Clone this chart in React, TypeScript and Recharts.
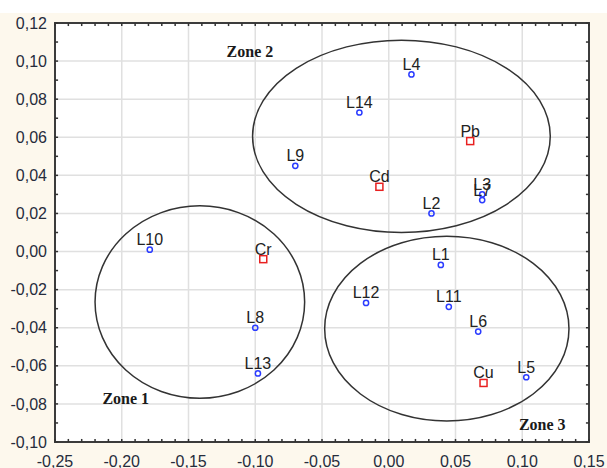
import { CartesianGrid, ReferenceArea, ReferenceLine, Scatter, ScatterChart, XAxis, YAxis } from 'recharts';

// sampling sites (blue circles)
const siteNames = ['L1', 'L2', 'L3', 'L4', 'L5', 'L6', 'L7', 'L8', 'L9', 'L10', 'L11', 'L12', 'L13', 'L14'];
const siteX = [0.039, 0.032, 0.07, 0.017, 0.103, 0.067, 0.07, -0.1, -0.07, -0.179, 0.045, -0.017, -0.098, -0.022];
const siteY = [-0.007, 0.02, 0.03, 0.093, -0.066, -0.042, 0.027, -0.04, 0.045, 0.001, -0.029, -0.027, -0.064, 0.073];

// metals (red squares)
const metalNames = ['Pb', 'Cd', 'Cr', 'Cu'];
const metalX = [0.061, -0.007, -0.094, 0.071];
const metalY = [0.058, 0.034, -0.004, -0.069];

// zone ellipses (bounding boxes) and their captions
const zoneNames = ['Zone 1', 'Zone 2', 'Zone 3'];
const zoneX1 = [-0.22, -0.102, -0.048];
const zoneX2 = [-0.063, 0.121, 0.135];
const zoneY1 = [-0.077, 0.01, -0.089];
const zoneY2 = [0.024, 0.111, 0.008];
const zoneLabelX = [-0.197, -0.104, 0.115];
const zoneLabelY = [-0.077, 0.105, -0.091];

const xDomain = [-0.25, 0.15];
const yDomain = [-0.1, 0.12];
const xTicks = [-0.25, -0.2, -0.15, -0.1, -0.05, 0, 0.05, 0.1, 0.15];
const yTicks = [-0.1, -0.08, -0.06, -0.04, -0.02, 0, 0.02, 0.04, 0.06, 0.08, 0.1, 0.12];
const xMinor = Array.from({ length: 41 }, (_, i) => Math.round((-0.25 + i * 0.01) * 100) / 100);
const yMinor = Array.from({ length: 23 }, (_, i) => Math.round((-0.1 + i * 0.01) * 100) / 100);
// inward tick length in data units (~3px)
const xTickLen = 0.0016;
const yTickLen = 0.0023;

const sites = siteNames.map((name, i) => ({ name, x: siteX[i], y: siteY[i] }));
const metals = metalNames.map((name, i) => ({ name, x: metalX[i], y: metalY[i] }));
const zoneLabels = zoneNames.map((name, i) => ({ name, x: zoneLabelX[i], y: zoneLabelY[i] }));

const fmt = (v: number) => v.toFixed(2).replace('.', ',');
const tickFont = { fontFamily: 'Arial, "Liberation Sans", sans-serif', fontSize: 16, fill: '#262c3c' };

const pointLabel = (cx: number, cy: number, name: string) => (
  <text x={cx} y={cy - 4.5} textAnchor="middle" fontFamily='Arial, "Liberation Sans", sans-serif' fontSize={16} fill="#222">
    {name}
  </text>
);

const SiteShape = (props: any) => (
  <g>
    {pointLabel(props.cx, props.cy, props.payload.name)}
    <circle cx={props.cx} cy={props.cy} r={2.6} fill="none" stroke="#2b3cff" strokeWidth={1.5} />
  </g>
);

const MetalShape = (props: any) => (
  <g>
    {pointLabel(props.cx, props.cy, props.payload.name)}
    <rect x={props.cx - 3.5} y={props.cy - 3.5} width={7} height={7} fill="none" stroke="#e82020" strokeWidth={1.5} />
  </g>
);

const ZoneText = (props: any) => (
  <text x={props.cx} y={props.cy} textAnchor="middle" dominantBaseline="central"
    fontFamily='"Liberation Serif", "Times New Roman", serif' fontWeight="bold" fontSize={16} fill="#1a1a1a">
    {props.payload.name}
  </text>
);

const Ellipse = (props: any) => (
  <ellipse cx={props.x + props.width / 2} cy={props.y + props.height / 2} rx={props.width / 2} ry={props.height / 2}
    fill="none" stroke="#333" strokeWidth={1.5} />
);

export default function App() {
  return (
    <div style={{ position: 'absolute', left: 0, top: 0, width: 607, height: 468, background: '#fff', overflow: 'hidden' }}>
      <div style={{ position: 'absolute', left: 0, top: 13, width: 607, height: 455, background: '#fdf8ed' }} />
      <div style={{ position: 'absolute', left: 0, top: 0 }}>
        <ScatterChart width={607} height={468} margin={{ top: 23, right: 18, bottom: 0, left: 0 }}>
          <CartesianGrid fill="#fff" stroke="#e0e0e0" strokeWidth={1.5} />
          <XAxis dataKey="x" type="number" domain={xDomain} ticks={xTicks} tickFormatter={fmt}
            tick={tickFont} tickLine={false} axisLine={false} height={26} tickMargin={8} allowDataOverflow />
          <YAxis dataKey="y" type="number" domain={yDomain} ticks={yTicks} tickFormatter={fmt}
            tick={tickFont} tickLine={false} axisLine={false} width={55} allowDataOverflow />
          {xMinor.map((t) => (
            <ReferenceLine key={`xb${t}`} segment={[{ x: t, y: yDomain[0] }, { x: t, y: yDomain[0] + xTickLen }]} stroke="#333" strokeWidth={1.5} />
          ))}
          {xMinor.map((t) => (
            <ReferenceLine key={`xt${t}`} segment={[{ x: t, y: yDomain[1] }, { x: t, y: yDomain[1] - xTickLen }]} stroke="#333" strokeWidth={1.5} />
          ))}
          {yMinor.map((t) => (
            <ReferenceLine key={`yl${t}`} segment={[{ x: xDomain[0], y: t }, { x: xDomain[0] + yTickLen, y: t }]} stroke="#333" strokeWidth={1.5} />
          ))}
          {yMinor.map((t) => (
            <ReferenceLine key={`yr${t}`} segment={[{ x: xDomain[1], y: t }, { x: xDomain[1] - yTickLen, y: t }]} stroke="#333" strokeWidth={1.5} />
          ))}
          <ReferenceArea x1={xDomain[0]} x2={xDomain[1]} y1={yDomain[0]} y2={yDomain[1]}
            fill="none" fillOpacity={0} stroke="#3c3c3c" strokeWidth={2} />
          {zoneNames.map((name, i) => (
            <ReferenceArea key={name} x1={zoneX1[i]} x2={zoneX2[i]} y1={zoneY1[i]} y2={zoneY2[i]} shape={Ellipse} />
          ))}
          <Scatter data={zoneLabels} shape={ZoneText} isAnimationActive={false} />
          <Scatter data={metals} shape={MetalShape} isAnimationActive={false} />
          <Scatter data={sites} shape={SiteShape} isAnimationActive={false} />
        </ScatterChart>
      </div>
    </div>
  );
}
